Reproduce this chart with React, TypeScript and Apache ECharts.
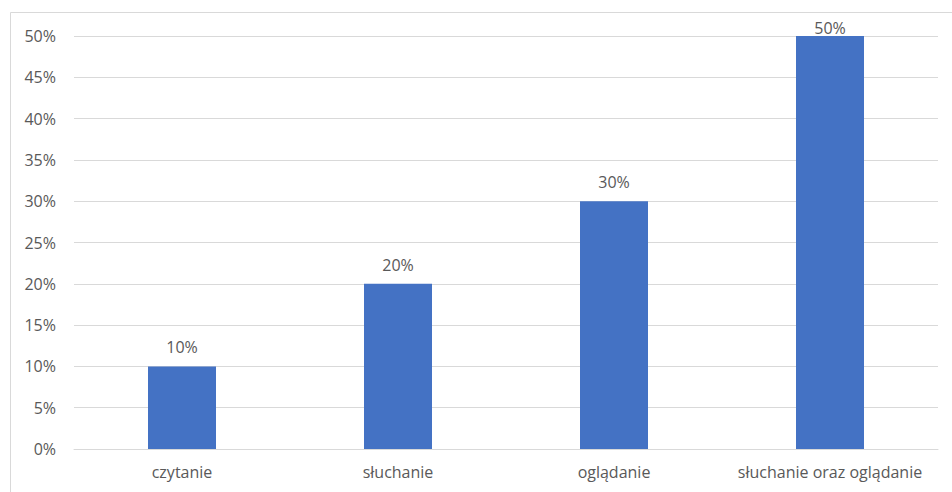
import React, { useEffect, useRef } from "react";
import * as echarts from "echarts";

const categories = ["czytanie", "słuchanie", "oglądanie", "słuchanie oraz oglądanie"];
const values = [10, 20, 30, 50];
const yMax = 50;

export default function App() {
  const ref = useRef<HTMLDivElement>(null);
  useEffect(() => {
    if (!ref.current) return;
    const chart = echarts.init(ref.current, undefined, { renderer: "svg" });
    const font = "'Open Sans', sans-serif";
    const data = values.map((v) =>
      v >= yMax ? { value: v, label: { distance: 0 } } : { value: v }
    );
    chart.setOption({
      animation: false,
      backgroundColor: "#ffffff",
      graphic: [
        {
          type: "rect",
          shape: { x: 10.5, y: 12.5, width: 960, height: 500 },
          style: { fill: "none", stroke: "#d9d9d9", lineWidth: 1 },
          silent: true,
        },
      ],
      grid: { left: 74, right: 14, top: 36, bottom: 43, containLabel: false },
      xAxis: {
        type: "category",
        data: categories,
        axisLine: { show: true, lineStyle: { color: "#d9d9d9" } },
        axisTick: { show: false },
        axisLabel: {
          color: "#595959",
          fontSize: 16,
          fontFamily: font,
          margin: 15,
          interval: 0,
          hideOverlap: false,
        },
      },
      yAxis: {
        type: "value",
        min: 0,
        max: yMax,
        interval: 5,
        axisLine: { show: false },
        axisTick: { show: false },
        splitLine: { lineStyle: { color: "#d9d9d9", width: 1 } },
        axisLabel: { color: "#595959", fontSize: 16, fontFamily: font, margin: 18, formatter: "{value}%" },
      },
      series: [
        {
          type: "bar",
          data,
          barWidth: 68,
          itemStyle: { color: "#4472C4" },
          label: {
            show: true,
            position: "top",
            distance: 11,
            color: "#595959",
            fontSize: 16,
            fontFamily: font,
            formatter: "{c}%",
          },
        },
      ],
    });
    return () => chart.dispose();
  }, []);
  return (
    <div
      ref={ref}
      style={{ position: "fixed", left: 0, top: 0, width: 952, height: 492 }}
    />
  );
}
